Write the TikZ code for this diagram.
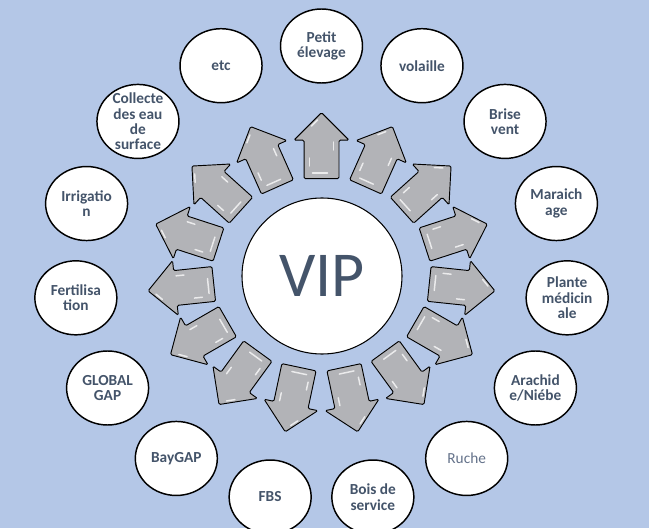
\documentclass[tikz,border=0pt]{standalone}
\usepackage{fontspec}
\setmainfont{Carlito}
\usepackage{tikz}
\usetikzlibrary{shapes.geometric,shapes.arrows}
\definecolor{bgblue}{RGB}{180,199,231}
\definecolor{txtblue}{RGB}{68,84,106}
\definecolor{ruchetxt}{RGB}{100,114,138}
\definecolor{arrowgray}{RGB}{178,179,183}
\tikzset{
  circ/.style={ellipse, draw=black, line width=1.1pt, fill=white,
    minimum width=61.5pt, minimum height=55.5pt, inner sep=0pt},
  lbl/.style={align=center, text=txtblue, inner sep=0pt,
    font=\bfseries\fontsize{11.5}{11.5}\selectfont},
  lightlbl/.style={text=ruchetxt, font=\fontsize{11.5}{11.5}\selectfont},
  vipcirc/.style={ellipse, draw=black, line width=0.8pt, fill=white,
    minimum width=120pt, minimum height=117pt, inner sep=0pt,
    text=txtblue, font=\fontsize{48}{48}\selectfont},
  bigarrow/.style={single arrow, draw=black, line width=0.7pt, fill=arrowgray,
    minimum height=49.5pt, inner xsep=0pt, inner ysep=12.75pt,
    single arrow head extend=7.5pt, rounded corners=1pt, anchor=tip},
  gloss/.style={white, line width=1.1pt, line cap=round, opacity=0.75}
}
\begin{document}
\begin{tikzpicture}[x=0.75pt,y=0.75pt]
\path[use as bounding box, fill=bgblue] (-321.5,-254) rectangle (327.5,274);
\node[vipcirc] (vip) at (0.5,-2) {VIP};
\foreach \k/\st/\txt in {0//{Petit\\élevage}, 1//volaille, 2//{Brise\\vent},
  3//{Maraich\\age}, 4//{Plante\\médicin\\ale}, 5//{Arachid\\e/Niébe},
  6/lightlbl/Ruche, 7//{Bois de\\service}, 8//FBS, 9//BayGAP,
  10//{GLOBAL\\GAP}, 11//{Fertilisa\\tion}, 12//{Irrigatio\\n},
  13//{Collecte\\des eau\\de\\surface}, 14//etc}{
  \pgfmathsetmacro{\a}{90-24*\k}
  \node[bigarrow, rotate=\a] (a\k) at ({175*cos(\a)},{162*sin(\a)}) {};
  \begin{scope}[shift={(a\k.tip)}, rotate=\a]
    \draw[gloss] (-61,9) -- (-61,-6);
    \draw[gloss] (-54,12) -- (-46,12);
    \draw[gloss] (-14,10) -- (-8,4);
    \draw[gloss] (-38,-12) -- (-30,-12);
  \end{scope}
  \node[circ] (c\k) at ({247*cos(\a)},{228*sin(\a)}) {};
  \node[lbl,\st] (t\k) at (c\k) {\txt};
}
\end{tikzpicture}
\end{document}
